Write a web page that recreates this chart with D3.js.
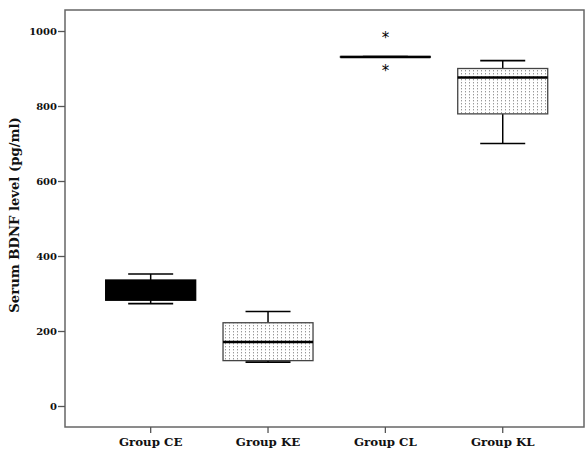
<!DOCTYPE html>
<html><head><meta charset="utf-8">
<script src="https://cdn.jsdelivr.net/npm/d3@7"></script>
<style>body{margin:0;background:#fff}</style>
</head><body>
<svg id="c" width="587" height="455"></svg>
<script>
const categories = ["Group CE", "Group KE", "Group CL", "Group KL"];
const whiskerLow  = [273, 117, 930, 700];
const q1          = [282, 121, 930, 779];
const median      = [300, 171, 931, 876];
const q3          = [336, 222, 932, 900];
const whiskerHigh = [352, 252, 932, 921];
const outliers    = [[], [], [987, 899], []];
const fills       = ["solid", "dots", "dots", "dots"];
const yTicks      = [0, 200, 400, 600, 800, 1000];

const svg = d3.select("#c");
const L = 65, R = 584, T = 10, B = 427;
const y = d3.scaleLinear().domain([-56, 1056]).range([B, T]);
const x = d3.scaleBand().domain(categories).range([92, 561.4]);
const font = "'DejaVu Serif',serif";

const defs = svg.append("defs");
const pat = defs.append("pattern").attr("id","dots").attr("patternUnits","userSpaceOnUse")
  .attr("width",4).attr("height",3);
pat.append("rect").attr("width",4).attr("height",3).attr("fill","#fff");
pat.append("rect").attr("x",1).attr("y",1).attr("width",1).attr("height",1.4).attr("fill","#999");

// frame
svg.append("rect").attr("x",L).attr("y",T).attr("width",R-L).attr("height",B-T)
  .attr("fill","none").attr("stroke","#666").attr("stroke-width",1.5);

// y axis
const ya = svg.append("g").attr("transform",`translate(${L},0)`)
  .call(d3.axisLeft(y).tickValues(yTicks).tickFormat(d3.format("d")).tickSize(7).tickPadding(1));
ya.select(".domain").remove();
ya.selectAll(".tick line").attr("stroke","#555").attr("stroke-width",1.3);
ya.selectAll(".tick text").attr("font-family",font).attr("font-weight","bold")
  .attr("font-size",10).attr("fill","#111");

// x axis
const xa = svg.append("g").attr("transform",`translate(0,${B})`)
  .call(d3.axisBottom(x).tickSize(6).tickPadding(5));
xa.select(".domain").remove();
xa.selectAll(".tick line").attr("stroke","#555").attr("stroke-width",1.3);
xa.selectAll(".tick text").attr("font-family",font).attr("font-weight","bold")
  .attr("font-size",11.8).attr("fill","#111");

// y title
svg.append("text").attr("transform","translate(19,215) rotate(-90)")
  .attr("text-anchor","middle").attr("font-family",font).attr("font-weight","bold")
  .attr("font-size",13.2).attr("fill","#111").text("Serum BDNF level (pg/ml)");

const boxW = 90, capW = 45;
categories.forEach((c,i)=>{
  const cx = x(c) + x.bandwidth()/2;
  const g = svg.append("g");
  g.append("line").attr("x1",cx).attr("x2",cx).attr("y1",y(q3[i])).attr("y2",y(whiskerHigh[i]))
    .attr("stroke","#000").attr("stroke-width",1.5);
  g.append("line").attr("x1",cx).attr("x2",cx).attr("y1",y(q1[i])).attr("y2",y(whiskerLow[i]))
    .attr("stroke","#000").attr("stroke-width",1.5);
  g.append("rect").attr("x",cx-boxW/2).attr("width",boxW)
    .attr("y",y(q3[i])).attr("height",Math.max(0,y(q1[i])-y(q3[i])))
    .attr("fill", fills[i]==="solid" ? "#000" : "url(#dots)")
    .attr("stroke", fills[i]==="solid" ? "#000" : "#444").attr("stroke-width",1.3);
  g.append("line").attr("x1",cx-boxW/2).attr("x2",cx+boxW/2).attr("y1",y(median[i])).attr("y2",y(median[i]))
    .attr("stroke","#000").attr("stroke-width",2.5);
  [whiskerHigh[i], whiskerLow[i]].forEach(v=>{
    g.append("line").attr("x1",cx-capW/2).attr("x2",cx+capW/2).attr("y1",y(v)).attr("y2",y(v))
      .attr("stroke","#000").attr("stroke-width",1.6);
  });
  outliers[i].forEach(v=>{
    g.append("text").attr("x",cx).attr("y",y(v)+7.5).attr("text-anchor","middle")
      .attr("font-family","'DejaVu Sans',sans-serif").attr("font-size",15).attr("fill","#000").text("*");
  });
});
</script>
</body></html>
